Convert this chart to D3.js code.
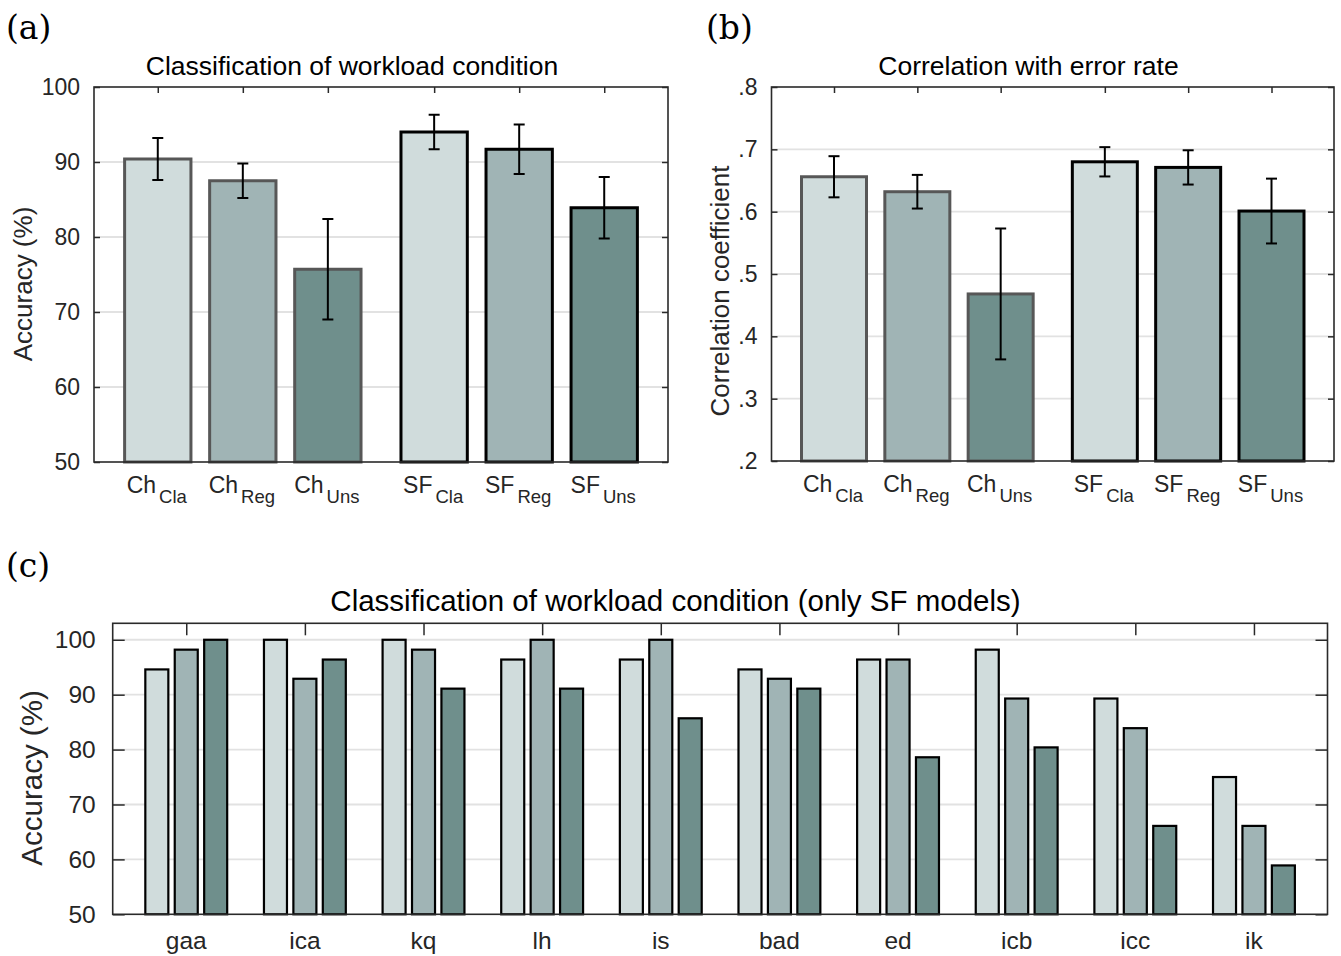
<!DOCTYPE html>
<html>
<head>
<meta charset="utf-8">
<script src="https://cdn.jsdelivr.net/npm/d3@7"></script>
<style>
  html, body { margin: 0; padding: 0; background: #ffffff; }
  svg { display: block; font-family: "Liberation Sans", Arial, Helvetica, sans-serif; }
  .panel-tag { font-family: "DejaVu Serif", "Liberation Serif", serif; }
</style>
</head>
<body>
<svg id="fig" width="1341" height="956"></svg>
<script>
// ---- model comparison (panels a and b) ----
const modelNames = ["Ch", "Ch", "Ch", "SF", "SF", "SF"];
const modelSubs  = ["Cla", "Reg", "Uns", "Cla", "Reg", "Uns"];
const modelPos   = [1, 2, 3, 4.25, 5.25, 6.25];
const modelShade = [0, 1, 2, 0, 1, 2];          // fill index per bar
const modelFamilyEdge = ["Ch", "Ch", "Ch", "SF", "SF", "SF"];

const accMean  = [90.4, 87.5, 75.7, 94.0, 91.7, 83.9];
const accErr   = [2.8, 2.3, 6.7, 2.3, 3.3, 4.1];
const accTicks = [50, 60, 70, 80, 90, 100];

const corrMean  = [0.656, 0.632, 0.468, 0.680, 0.671, 0.601];
const corrErr   = [0.033, 0.027, 0.105, 0.0235, 0.0275, 0.052];
const corrTicks = [0.2, 0.3, 0.4, 0.5, 0.6, 0.7, 0.8];

// ---- per-subject accuracy of SF models (panel c) ----
const subjects = ["gaa", "ica", "kq", "lh", "is", "bad", "ed", "icb", "icc", "ik"];
const sfCla = [94.6, 100, 100, 96.4, 96.4, 94.6, 96.4, 98.2, 89.3, 75.0];
const sfReg = [98.2, 92.9, 98.2, 100, 100, 92.9, 96.4, 89.3, 83.9, 66.1];
const sfUns = [100, 96.4, 91.1, 91.1, 85.7, 91.1, 78.6, 80.4, 66.1, 58.9];
const subjTicks = [50, 60, 70, 80, 90, 100];

// ---- styling ----
const fills = ["#d0dcdc", "#a0b4b5", "#6f8f8c"];
const edgeColor = { Ch: "#575757", SF: "#000000" };
const axisColor = "#2a2a2a";
const gridColor = "#e2e2e2";

const svg = d3.select("#fig");

function drawGrid(g, x, y, ticks) {
  const [x0, x1] = x.range();
  const [y0, y1] = y.range();   // y0 bottom, y1 top
  g.append("g").selectAll("line")
    .data(ticks.filter(t => y(t) > y1 + 1 && y(t) < y0 - 1))
    .join("line")
    .attr("x1", x0).attr("x2", x1)
    .attr("y1", d => y(d)).attr("y2", d => y(d))
    .attr("stroke", gridColor).attr("stroke-width", 1.8);
}

function drawAxes(g, x, y, yTicks, xTicks, opts) {
  const [x0, x1] = x.range();
  const [y0, y1] = y.range();
  const tl = opts.tickLen;
  // left axis with labels
  const left = g.append("g").attr("transform", `translate(${x0},0)`)
    .call(d3.axisLeft(y).tickValues(yTicks).tickSize(-tl).tickPadding(opts.yPad).tickFormat(opts.yFormat));
  left.select(".domain").remove();
  left.selectAll("line").attr("stroke", axisColor).attr("stroke-width", 1.5);
  left.selectAll("text").attr("fill", "#262626").style("font-size", opts.tickFont + "px");
  // right ticks (mirror)
  const right = g.append("g").attr("transform", `translate(${x1},0)`)
    .call(d3.axisRight(y).tickValues(yTicks).tickSize(-tl).tickFormat(""));
  right.select(".domain").remove();
  right.selectAll("line").attr("stroke", axisColor).attr("stroke-width", 1.5);
  // top ticks (mirror)
  const top = g.append("g").attr("transform", `translate(0,${y1})`)
    .call(d3.axisTop(x).tickValues(xTicks).tickSize(-tl).tickFormat(""));
  top.select(".domain").remove();
  top.selectAll("line").attr("stroke", axisColor).attr("stroke-width", 1.5);
  // box
  g.append("rect")
    .attr("x", x0).attr("y", y1).attr("width", x1 - x0).attr("height", y0 - y1)
    .attr("fill", "none").attr("stroke", axisColor).attr("stroke-width", 1.6);
}

function modelPanel(cfg) {
  const g = svg.append("g");
  const x = d3.scaleLinear().domain([0.25, 7]).range([cfg.left, cfg.right]);
  const y = d3.scaleLinear().domain(cfg.yDomain).range([cfg.bottom, cfg.top]);
  const unit = x(1) - x(0);
  const bw = 0.78 * unit;
  const base = cfg.yDomain[0];

  drawGrid(g, x, y, cfg.yTicks);

  const rows = modelPos.map((p, i) => ({
    p, v: cfg.mean[i], e: cfg.err[i], shade: modelShade[i], fam: modelFamilyEdge[i],
    name: modelNames[i], sub: modelSubs[i]
  }));

  g.append("g").selectAll("rect").data(rows).join("rect")
    .attr("x", d => x(d.p) - bw / 2)
    .attr("y", d => y(d.v))
    .attr("width", bw)
    .attr("height", d => y(base) - y(d.v))
    .attr("fill", d => fills[d.shade])
    .attr("stroke", d => edgeColor[d.fam])
    .attr("stroke-width", 3);

  // error bars
  const eb = g.append("g").attr("stroke", "#000").attr("stroke-width", 2);
  const cap = 5.5;
  eb.selectAll("line.v").data(rows).join("line").attr("class", "v")
    .attr("x1", d => x(d.p)).attr("x2", d => x(d.p))
    .attr("y1", d => y(d.v + d.e)).attr("y2", d => y(d.v - d.e));
  eb.selectAll("line.t").data(rows).join("line").attr("class", "t")
    .attr("x1", d => x(d.p) - cap).attr("x2", d => x(d.p) + cap)
    .attr("y1", d => y(d.v + d.e)).attr("y2", d => y(d.v + d.e));
  eb.selectAll("line.b").data(rows).join("line").attr("class", "b")
    .attr("x1", d => x(d.p) - cap).attr("x2", d => x(d.p) + cap)
    .attr("y1", d => y(d.v - d.e)).attr("y2", d => y(d.v - d.e));

  drawAxes(g, x, y, cfg.yTicks, modelPos,
    { tickLen: 6, yPad: 14, yFormat: cfg.yFormat, tickFont: 23 });

  // category labels with subscripts
  const lab = g.append("g").selectAll("text").data(rows).join("text")
    .attr("x", d => x(d.p) - 1)
    .attr("y", cfg.bottom + 31)
    .attr("text-anchor", "middle")
    .attr("fill", "#262626")
    .style("font-size", "23px");
  lab.append("tspan").text(d => d.name);
  lab.append("tspan").attr("dx", 3).attr("dy", 10).style("font-size", "18.5px").text(d => d.sub);

  // title
  g.append("text")
    .attr("x", cfg.titleX).attr("y", cfg.top - 12)
    .attr("text-anchor", "middle").attr("fill", "#000")
    .style("font-size", cfg.titleFont + "px")
    .text(cfg.title);
  // y label
  g.append("text")
    .attr("transform", `translate(${cfg.yLabelX},${cfg.yLabelY}) rotate(-90)`)
    .attr("text-anchor", "middle").attr("fill", "#262626")
    .style("font-size", "26px")
    .text(cfg.yLabel);
  // panel tag
  g.append("text").attr("class", "panel-tag")
    .attr("x", cfg.tagX).attr("y", 39)
    .style("font-size", "33px").attr("fill", "#000")
    .text(cfg.tag);
}

modelPanel({
  left: 94, right: 668, top: 87, bottom: 462,
  yDomain: [50, 100], yTicks: accTicks, mean: accMean, err: accErr,
  yFormat: d3.format("d"),
  title: "Classification of workload condition", titleFont: 26.5, titleX: 352,
  yLabel: "Accuracy (%)", yLabelX: 32, yLabelY: 284, tag: "(a)", tagX: 6
});

modelPanel({
  left: 771.5, right: 1334, top: 87, bottom: 461,
  yDomain: [0.2, 0.8], yTicks: corrTicks, mean: corrMean, err: corrErr,
  yFormat: d => d3.format(".1f")(d).replace(/^0/, ""),
  title: "Correlation with error rate", titleFont: 26.5, titleX: 1028.5,
  yLabel: "Correlation coefficient", yLabelX: 729, yLabelY: 291, tag: "(b)", tagX: 706
});

// ---- panel c ----
(function () {
  const left = 112.7, right = 1327.5, top = 623.3, bottom = 914.3;
  const g = svg.append("g");
  const x = d3.scaleLinear().domain([0.38, 10.62]).range([left, right]);
  const y = d3.scaleLinear().domain([50, 103]).range([bottom, top]);
  const unit = x(1) - x(0);
  const bw = 0.194 * unit;
  const off = 0.248 * unit;
  const series = [sfCla, sfReg, sfUns];
  const groupPos = subjects.map((s, i) => i + 1);

  drawGrid(g, x, y, subjTicks);

  const cells = [];
  subjects.forEach((s, i) => {
    series.forEach((vals, k) => cells.push({ p: i + 1, k, v: vals[i] }));
  });
  g.append("g").selectAll("rect").data(cells).join("rect")
    .attr("x", d => x(d.p) + (d.k - 1) * off - bw / 2)
    .attr("y", d => y(d.v))
    .attr("width", bw)
    .attr("height", d => y(50) - y(d.v))
    .attr("fill", d => fills[d.k])
    .attr("stroke", "#000").attr("stroke-width", 2.2);

  drawAxes(g, x, y, subjTicks, groupPos,
    { tickLen: 12, yPad: 17, yFormat: d3.format("d"), tickFont: 24.5 });

  g.append("g").selectAll("text").data(subjects).join("text")
    .attr("x", (d, i) => x(i + 1))
    .attr("y", bottom + 35)
    .attr("text-anchor", "middle").attr("fill", "#262626")
    .style("font-size", "24.5px")
    .text(d => d);

  g.append("text")
    .attr("x", 675.5).attr("y", top - 12)
    .attr("text-anchor", "middle").attr("fill", "#000")
    .style("font-size", "29.5px")
    .text("Classification of workload condition (only SF models)");
  g.append("text")
    .attr("transform", `translate(42,778) rotate(-90)`)
    .attr("text-anchor", "middle").attr("fill", "#262626")
    .style("font-size", "29.5px")
    .text("Accuracy (%)");
  g.append("text").attr("class", "panel-tag")
    .attr("x", 6).attr("y", 577)
    .style("font-size", "33px").attr("fill", "#000")
    .text("(c)");
})();
</script>
</body>
</html>
